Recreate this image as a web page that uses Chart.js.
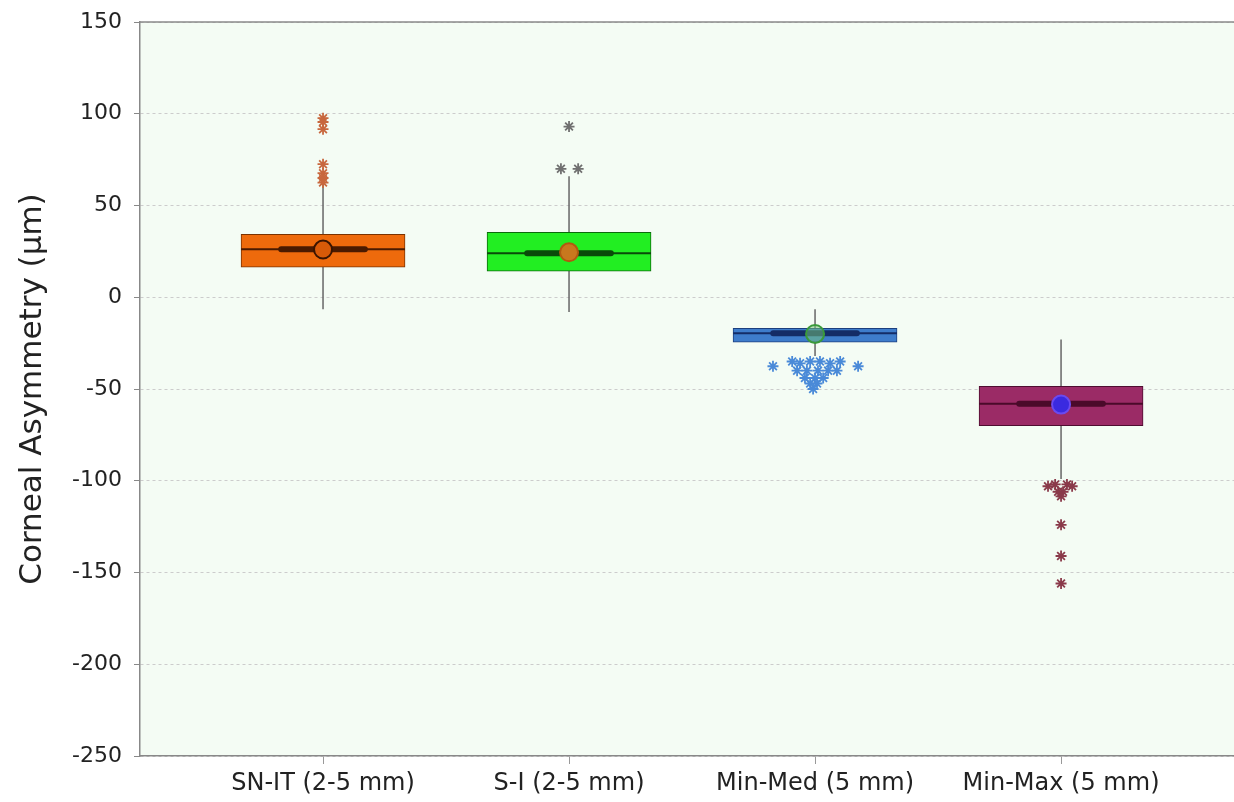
<!DOCTYPE html>
<html>
<head>
<meta charset="utf-8">
<title>Corneal Asymmetry</title>
<script src="https://cdn.jsdelivr.net/npm/chart.js@4.4.1/dist/chart.umd.min.js"></script>
<style>
  html, body { margin: 0; padding: 0; background: #fff; overflow: hidden; }
  canvas { display: block; }
</style>
</head>
<body>
<canvas id="chart" width="1234" height="802"></canvas>
<script>
  // --- data ---
  var groups = ['SN-IT (2-5 mm)', 'S-I (2-5 mm)', 'Min-Med (5 mm)', 'Min-Max (5 mm)'];
  var boxLow = [16.4, 14.2, -24.5, -70.0];
  var boxHigh = [34.3, 35.4, -17.0, -48.5];
  var medians = [26.2, 24.0, -19.6, -58.0];
  var means = [26.0, 24.5, -20.0, -58.5];
  var whiskerLow = [-6.5, -8.0, -32.0, -99.0];
  var whiskerHigh = [62.0, 66.0, -6.5, -23.0];

  // outliers: values, and horizontal spread of stacked markers (category units)
  var outlierValues = [
    [97.6, 95.5, 91.6, 72.5, 67.6, 65.0, 62.5],
    [93.0, 70.0, 70.0],
    [-37.6, -35.0, -36.0, -35.0, -35.0, -36.0, -35.0, -37.6,
     -40.0, -40.0, -40.0, -40.0, -40.0, -44.0, -44.0, -44.0, -47.0, -47.0, -50.0],
    [-103.0, -102.0, -102.0, -103.0, -106.0, -106.0, -108.5, -124.0, -141.0, -156.0]
  ];
  var outlierSpread = [
    [0, 0, 0, 0, 0, 0, 0],
    [0, -0.033, 0.037],
    [-0.171, -0.093, -0.061, -0.020, 0.020, 0.061, 0.102, 0.175,
     -0.073, -0.033, 0.012, 0.053, 0.089, -0.041, 0, 0.033, -0.020, 0.008, -0.008],
    [-0.053, -0.024, 0.024, 0.045, -0.012, 0.008, 0, 0, 0, 0]
  ];

  var yTicks = [150, 100, 50, 0, -50, -100, -150, -200, -250];

  // --- styles ---
  var boxFill = ['#EE6A0C', '#22EE22', '#3E7CCB', '#9B2B66'];
  var boxEdge = ['#7A3200', '#0A6A0A', '#1C3F7E', '#4E0D30'];
  var medColor = ['#4A1A00', '#0A4A0A', '#142C66', '#4A0A2A'];
  var meanFill = ['#D85A08', '#C8781E', 'rgba(120,200,120,0.5)', '#3A2AE0'];
  var meanEdge = ['#3A1400', '#B05A10', '#3A9A3A', '#6A4AF0'];
  var outColor = ['#C8683E', '#707070', '#4A8AD8', '#8A3A4A'];

  var BOX_HALF = 0.333;
  var CI_HALF = 0.17;

  function noPad(s) {
    s.paddingTop = 0; s.paddingBottom = 0; s.paddingLeft = 0; s.paddingRight = 0;
  }

  var plotBg = {
    id: 'plotBg',
    beforeDraw: function (chart) {
      var a = chart.chartArea, ctx = chart.ctx;
      ctx.save();
      ctx.fillStyle = '#F4FCF4';
      ctx.fillRect(a.left, a.top, a.right - a.left, a.bottom - a.top);
      ctx.restore();
    },
    afterDatasetsDraw: function (chart) {
      var a = chart.chartArea, ctx = chart.ctx;
      ctx.save();
      ctx.strokeStyle = '#8A8A8A';
      ctx.lineWidth = 1.5;
      ctx.beginPath();
      ctx.moveTo(a.left, a.top);
      ctx.lineTo(a.right, a.top);
      ctx.stroke();
      ctx.restore();
    }
  };

  var datasets = [];

  datasets.push({
    type: 'bar',
    data: groups.map(function (g, i) { return { x: i + 1, y: [boxLow[i], boxHigh[i]] }; }),
    backgroundColor: boxFill,
    borderColor: boxEdge,
    borderWidth: 1,
    borderSkipped: false,
    barThickness: 164,
    grouped: false,
    order: 5
  });

  groups.forEach(function (g, i) {
    var x = i + 1;
    datasets.push({
      type: 'scatter', showLine: true,
      data: [{ x: x, y: whiskerLow[i] }, { x: x, y: whiskerHigh[i] }],
      borderColor: '#666', borderWidth: 1.5, pointRadius: 0, order: 6
    });
    datasets.push({
      type: 'scatter', showLine: true,
      data: [{ x: x - BOX_HALF, y: medians[i] }, { x: x + BOX_HALF, y: medians[i] }],
      borderColor: medColor[i], borderWidth: 2, pointRadius: 0, order: 4
    });
    datasets.push({
      type: 'scatter', showLine: true,
      data: [{ x: x - CI_HALF, y: medians[i] }, { x: x + CI_HALF, y: medians[i] }],
      borderColor: medColor[i], borderWidth: 6, borderCapStyle: 'round',
      pointRadius: 0, order: 3
    });
    datasets.push({
      type: 'scatter',
      data: [{ x: x, y: means[i] }],
      backgroundColor: meanFill[i], borderColor: meanEdge[i], borderWidth: 2,
      pointRadius: 9, order: 2
    });
    datasets.push({
      type: 'scatter',
      data: outlierValues[i].map(function (v, k) { return { x: x + outlierSpread[i][k], y: v }; }),
      pointStyle: 'star', pointRadius: 5.5, borderWidth: 1.8,
      borderColor: outColor[i], backgroundColor: outColor[i], order: 1
    });
  });

  new Chart(document.getElementById('chart'), {
    type: 'bar',
    data: { datasets: datasets },
    options: {
      responsive: false,
      animation: false,
      layout: { autoPadding: false, padding: { top: 22, right: 0, left: 0, bottom: 0 } },
      plugins: { legend: { display: false }, tooltip: { enabled: false } },
      scales: {
        x: {
          type: 'linear',
          offset: false,
          min: 0.256,
          max: 4.703,
          afterFit: function (s) { s.height = 46; noPad(s); },
          afterBuildTicks: function (s) {
            s.ticks = groups.map(function (g, i) { return { value: i + 1 }; });
          },
          ticks: {
            autoSkip: false,
            maxRotation: 0,
            color: '#222',
            padding: 5,
            font: { family: 'DejaVu Sans', size: 24 },
            callback: function (v) { return groups[v - 1] || ''; }
          },
          grid: { offset: false, drawOnChartArea: false, tickLength: 8, color: '#999' },
          border: { display: true, color: '#888', width: 1.5 }
        },
        y: {
          min: -250,
          max: 150,
          afterFit: function (s) { s.width = 140; noPad(s); },
          afterBuildTicks: function (s) {
            s.ticks = yTicks.map(function (v) { return { value: v }; });
          },
          ticks: {
            color: '#222',
            padding: 12,
            font: { family: 'DejaVu Sans', size: 22 }
          },
          grid: {
            color: '#CCCCCC',
            lineWidth: 1,
            tickLength: 6,
            tickColor: '#888',
            tickBorderDash: []
          },
          border: { display: true, color: '#888', width: 1.5, dash: [3, 3] },
          title: {
            display: true,
            text: 'Corneal Asymmetry (µm)',
            color: '#222',
            padding: { top: 14, bottom: 0 },
            font: { family: 'DejaVu Sans', size: 31 }
          }
        }
      }
    },
    plugins: [plotBg]
  });
</script>
</body>
</html>
